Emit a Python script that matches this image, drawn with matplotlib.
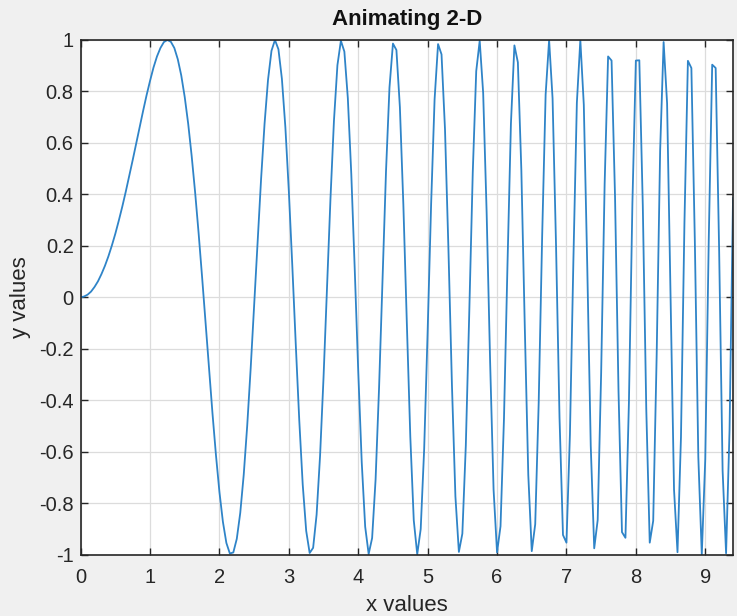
import matplotlib
matplotlib.use("Agg")
import matplotlib.pyplot as plt

plt.rcParams['font.family'] = ['Liberation Sans', 'DejaVu Sans']

# sample positions (step 0.05 from 0 to 9.40)
x_vals = [
    0.00, 0.05, 0.10, 0.15, 0.20, 0.25, 0.30, 0.35, 0.40, 0.45,
    0.50, 0.55, 0.60, 0.65, 0.70, 0.75, 0.80, 0.85, 0.90, 0.95,
    1.00, 1.05, 1.10, 1.15, 1.20, 1.25, 1.30, 1.35, 1.40, 1.45,
    1.50, 1.55, 1.60, 1.65, 1.70, 1.75, 1.80, 1.85, 1.90, 1.95,
    2.00, 2.05, 2.10, 2.15, 2.20, 2.25, 2.30, 2.35, 2.40, 2.45,
    2.50, 2.55, 2.60, 2.65, 2.70, 2.75, 2.80, 2.85, 2.90, 2.95,
    3.00, 3.05, 3.10, 3.15, 3.20, 3.25, 3.30, 3.35, 3.40, 3.45,
    3.50, 3.55, 3.60, 3.65, 3.70, 3.75, 3.80, 3.85, 3.90, 3.95,
    4.00, 4.05, 4.10, 4.15, 4.20, 4.25, 4.30, 4.35, 4.40, 4.45,
    4.50, 4.55, 4.60, 4.65, 4.70, 4.75, 4.80, 4.85, 4.90, 4.95,
    5.00, 5.05, 5.10, 5.15, 5.20, 5.25, 5.30, 5.35, 5.40, 5.45,
    5.50, 5.55, 5.60, 5.65, 5.70, 5.75, 5.80, 5.85, 5.90, 5.95,
    6.00, 6.05, 6.10, 6.15, 6.20, 6.25, 6.30, 6.35, 6.40, 6.45,
    6.50, 6.55, 6.60, 6.65, 6.70, 6.75, 6.80, 6.85, 6.90, 6.95,
    7.00, 7.05, 7.10, 7.15, 7.20, 7.25, 7.30, 7.35, 7.40, 7.45,
    7.50, 7.55, 7.60, 7.65, 7.70, 7.75, 7.80, 7.85, 7.90, 7.95,
    8.00, 8.05, 8.10, 8.15, 8.20, 8.25, 8.30, 8.35, 8.40, 8.45,
    8.50, 8.55, 8.60, 8.65, 8.70, 8.75, 8.80, 8.85, 8.90, 8.95,
    9.00, 9.05, 9.10, 9.15, 9.20, 9.25, 9.30, 9.35, 9.40,
]

y_vals = [
    0.000, 0.003, 0.010, 0.022, 0.040, 0.062, 0.090, 0.122, 0.159, 0.201,
    0.247, 0.298, 0.352, 0.410, 0.471, 0.533, 0.597, 0.661, 0.724, 0.785,
    0.841, 0.893, 0.936, 0.969, 0.992, 1.000, 0.993, 0.969, 0.925, 0.862,
    0.778, 0.674, 0.549, 0.407, 0.249, 0.079, -0.098, -0.277, -0.452, -0.614,
    -0.757, -0.873, -0.955, -0.996, -0.992, -0.939, -0.838, -0.690, -0.500, -0.277,
    -0.033, 0.218, 0.459, 0.674, 0.845, 0.958, 1.000, 0.964, 0.849, 0.661,
    0.412, 0.122, -0.184, -0.477, -0.728, -0.908, -0.994, -0.974, -0.845, -0.616,
    -0.311, 0.036, 0.384, 0.686, 0.902, 0.997, 0.955, 0.774, 0.478, 0.105,
    -0.288, -0.640, -0.892, -0.998, -0.936, -0.708, -0.352, 0.073, 0.489, 0.815,
    0.986, 0.961, 0.739, 0.360, -0.099, -0.541, -0.867, -0.999, -0.901, -0.589,
    -0.132, 0.361, 0.769, 0.984, 0.944, 0.653, 0.183, -0.341, -0.774, -0.990,
    -0.919, -0.576, -0.056, 0.485, 0.879, 0.997, 0.794, 0.329, -0.250, -0.748,
    -0.992, -0.890, -0.470, 0.123, 0.675, 0.979, 0.913, 0.495, -0.119, -0.690,
    -0.987, -0.882, -0.410, 0.238, 0.788, 1.000, 0.773, 0.200, -0.467, -0.924,
    -0.954, -0.534, 0.144, 0.756, 1.000, 0.748, 0.117, -0.577, -0.976, -0.866,
    -0.294, 0.438, 0.936, 0.920, 0.390, -0.364, -0.913, -0.935, -0.410, 0.362,
    0.920, 0.921, 0.356, -0.434, -0.954, -0.869, -0.223, 0.571, 0.992, 0.754,
    0.007, -0.748, -0.991, -0.544, 0.288, 0.919, 0.891, 0.216, -0.621, -1.000,
    -0.630, 0.219, 0.904, 0.891, 0.182, -0.674, -0.995, -0.516, 0.385,
]

x_ticks = [0, 1, 2, 3, 4, 5, 6, 7, 8, 9]
y_ticks = [-1, -0.8, -0.6, -0.4, -0.2, 0, 0.2, 0.4, 0.6, 0.8, 1]
y_tick_labels = ['-1', '-0.8', '-0.6', '-0.4', '-0.2', '0', '0.2', '0.4', '0.6', '0.8', '1']

ink = '#262626'

fig = plt.figure(figsize=(7.37, 6.16), dpi=100, facecolor='#f0f0f0')
ax = fig.add_axes([0.1094, 0.0998, 0.8852, 0.8353])
ax.set_facecolor('white')

ax.plot(x_vals, y_vals, color='#2f84c8', linewidth=1.3)

ax.set_xlim(x_vals[0], x_vals[-1])
ax.set_ylim(-1, 1)
ax.set_xticks(x_ticks)
ax.set_yticks(y_ticks)
ax.set_yticklabels(y_tick_labels)

ax.grid(True, color='#dcdcdc', linewidth=0.9)
ax.set_axisbelow(True)
ax.tick_params(direction='in', length=5, width=1, colors=ink, labelsize=14.5,
               top=True, right=True)
ax.tick_params(axis='x', pad=10)
ax.tick_params(axis='y', pad=5)
for side in ax.spines.values():
    side.set_color(ink)
    side.set_linewidth(1.2)

ax.set_title('Animating 2-D', fontsize=16, fontweight='bold', color='#111111', pad=11)
ax.set_xlabel('x values', fontsize=16, color=ink, labelpad=5.5)
ax.set_ylabel('y values', fontsize=16, color=ink, labelpad=6)

fig.savefig('out.png', dpi=100, facecolor=fig.get_facecolor())
